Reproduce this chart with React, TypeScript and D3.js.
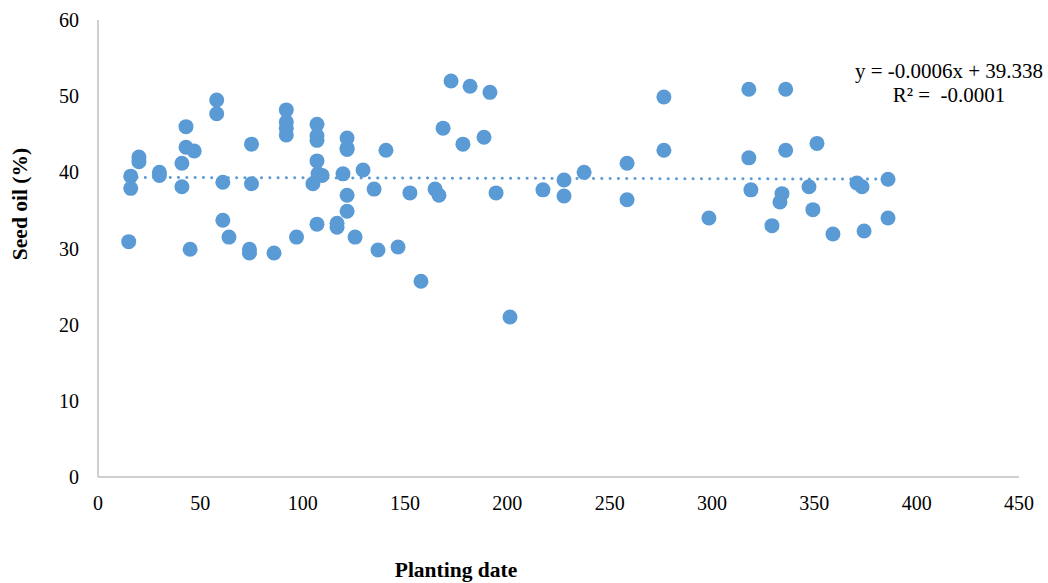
import React, { useEffect, useRef } from "react";
import * as d3 from "d3";

// planting date (x) and seed oil % (y)
const plantingDate = [
  16, 16, 15, 20, 20, 30, 30, 43, 43, 47, 41, 41, 45, 58, 58, 61, 61, 64, 75, 75,
  74, 74, 86, 92, 92, 92, 92, 97, 107, 107, 107, 107, 107.5, 105, 109.5, 107,
  121.7, 121.7, 121.7, 119.7, 121.7, 121.7, 116.8, 116.8, 125.6, 129.5, 134.9,
  140.7, 136.8, 146.6, 152.4, 157.8, 164.7, 166.6, 168.6, 172.5, 181.8, 178.3,
  191.5, 188.6, 194.5, 201.3, 217.4, 227.7, 227.7, 237.5, 258.5, 258.5, 276.5,
  276.5, 298.5, 318, 318, 319, 336, 336, 351.3, 334.2, 333.2, 329.3, 347.4,
  349.3, 359.1, 370.8, 373.3, 374.3, 386, 386
];
const seedOil = [
  39.5, 37.9, 30.9, 42.0, 41.4, 40.0, 39.6, 46.0, 43.3, 42.8, 41.2, 38.1, 29.9,
  49.5, 47.7, 38.7, 33.7, 31.5, 43.7, 38.5, 29.9, 29.4, 29.4, 48.2, 46.6, 45.8,
  44.9, 31.5, 46.3, 44.8, 44.2, 41.5, 39.8, 38.5, 39.6, 33.2, 44.5, 43.2, 43.0,
  39.8, 37.0, 34.9, 33.3, 32.8, 31.5, 40.3, 37.8, 42.9, 29.8, 30.2, 37.3, 25.7,
  37.8, 37.0, 45.8, 52.0, 51.3, 43.7, 50.5, 44.6, 37.3, 21.0, 37.7, 39.0, 36.9,
  40.0, 41.2, 36.4, 49.9, 42.9, 34.0, 50.9, 41.9, 37.7, 50.9, 42.9, 43.8, 37.2,
  36.1, 33.0, 38.1, 35.1, 31.9, 38.6, 38.1, 32.3, 39.1, 34.0
];
const xTicks = [0, 50, 100, 150, 200, 250, 300, 350, 400, 450];
const yTicks = [0, 10, 20, 30, 40, 50, 60];
const slope = -0.0006;
const intercept = 39.338;
const equationLines = ["y = -0.0006x + 39.338", "R² =  -0.0001"];

const W = 1048;
const H = 583;
const margin = { top: 20, right: 29, bottom: 106, left: 98 };
const dotColor = "#5B9BD5";
const axisColor = "#BFBFBF";
const font = "'Liberation Serif', 'Times New Roman', serif";

export default function App() {
  const ref = useRef<SVGSVGElement>(null);

  useEffect(() => {
    const svg = d3.select(ref.current);
    svg.selectAll("*").remove();

    const x = d3
      .scaleLinear()
      .domain([0, 450])
      .range([margin.left, W - margin.right]);
    const y = d3
      .scaleLinear()
      .domain([0, 60])
      .range([H - margin.bottom, margin.top]);

    // axes lines
    svg
      .append("line")
      .attr("x1", x(0))
      .attr("x2", x(0))
      .attr("y1", y(60))
      .attr("y2", y(0))
      .attr("stroke", axisColor)
      .attr("stroke-width", 1.5);
    svg
      .append("line")
      .attr("x1", x(0))
      .attr("x2", x(450))
      .attr("y1", y(0))
      .attr("y2", y(0))
      .attr("stroke", axisColor)
      .attr("stroke-width", 1.5);

    // tick labels
    svg
      .append("g")
      .selectAll("text")
      .data(yTicks)
      .join("text")
      .attr("x", x(0) - 19)
      .attr("y", (d) => y(d))
      .attr("dy", "0.35em")
      .attr("text-anchor", "end")
      .attr("font-family", font)
      .attr("font-size", 20)
      .attr("fill", "#000")
      .text((d) => d);
    svg
      .append("g")
      .selectAll("text")
      .data(xTicks)
      .join("text")
      .attr("x", (d) => x(d))
      .attr("y", y(0) + 33)
      .attr("text-anchor", "middle")
      .attr("font-family", font)
      .attr("font-size", 20)
      .attr("fill", "#000")
      .text((d) => d);

    // axis titles
    svg
      .append("text")
      .attr("transform", `translate(27, 204) rotate(-90)`)
      .attr("text-anchor", "middle")
      .attr("font-family", font)
      .attr("font-size", 21.5)
      .attr("font-weight", "bold")
      .text("Seed oil (%)");
    svg
      .append("text")
      .attr("x", 456)
      .attr("y", 577)
      .attr("text-anchor", "middle")
      .attr("font-family", font)
      .attr("font-size", 21.5)
      .attr("font-weight", "bold")
      .text("Planting date");

    // points
    const pts = plantingDate.map((d, i) => ({ x: d, y: seedOil[i] }));
    svg
      .append("g")
      .selectAll("circle")
      .data(pts)
      .join("circle")
      .attr("cx", (d) => x(d.x))
      .attr("cy", (d) => y(d.y))
      .attr("r", 7.5)
      .attr("fill", dotColor);

    // linear trendline, dotted
    const x0 = d3.min(plantingDate) as number;
    const x1 = d3.max(plantingDate) as number;
    const trend = d3
      .line<number>()
      .x((d) => x(d))
      .y((d) => y(slope * d + intercept));
    svg
      .append("path")
      .datum([x0, x1])
      .attr("d", trend)
      .attr("fill", "none")
      .attr("stroke", dotColor)
      .attr("stroke-width", 3)
      .attr("stroke-linecap", "round")
      .attr("stroke-dasharray", "0.1 8.2");

    // equation label
    svg
      .append("g")
      .selectAll("text")
      .data(equationLines)
      .join("text")
      .attr("x", 949)
      .attr("y", (d, i) => 78 + i * 24)
      .attr("text-anchor", "middle")
      .attr("font-family", font)
      .attr("font-size", 21)
      .attr("fill", "#000")
      .style("white-space", "pre")
      .text((d) => d);
  }, []);

  return (
    <div style={{ position: "fixed", left: 0, top: 0 }}>
      <svg ref={ref} width={W} height={H} style={{ display: "block", background: "#fff" }} />
    </div>
  );
}
